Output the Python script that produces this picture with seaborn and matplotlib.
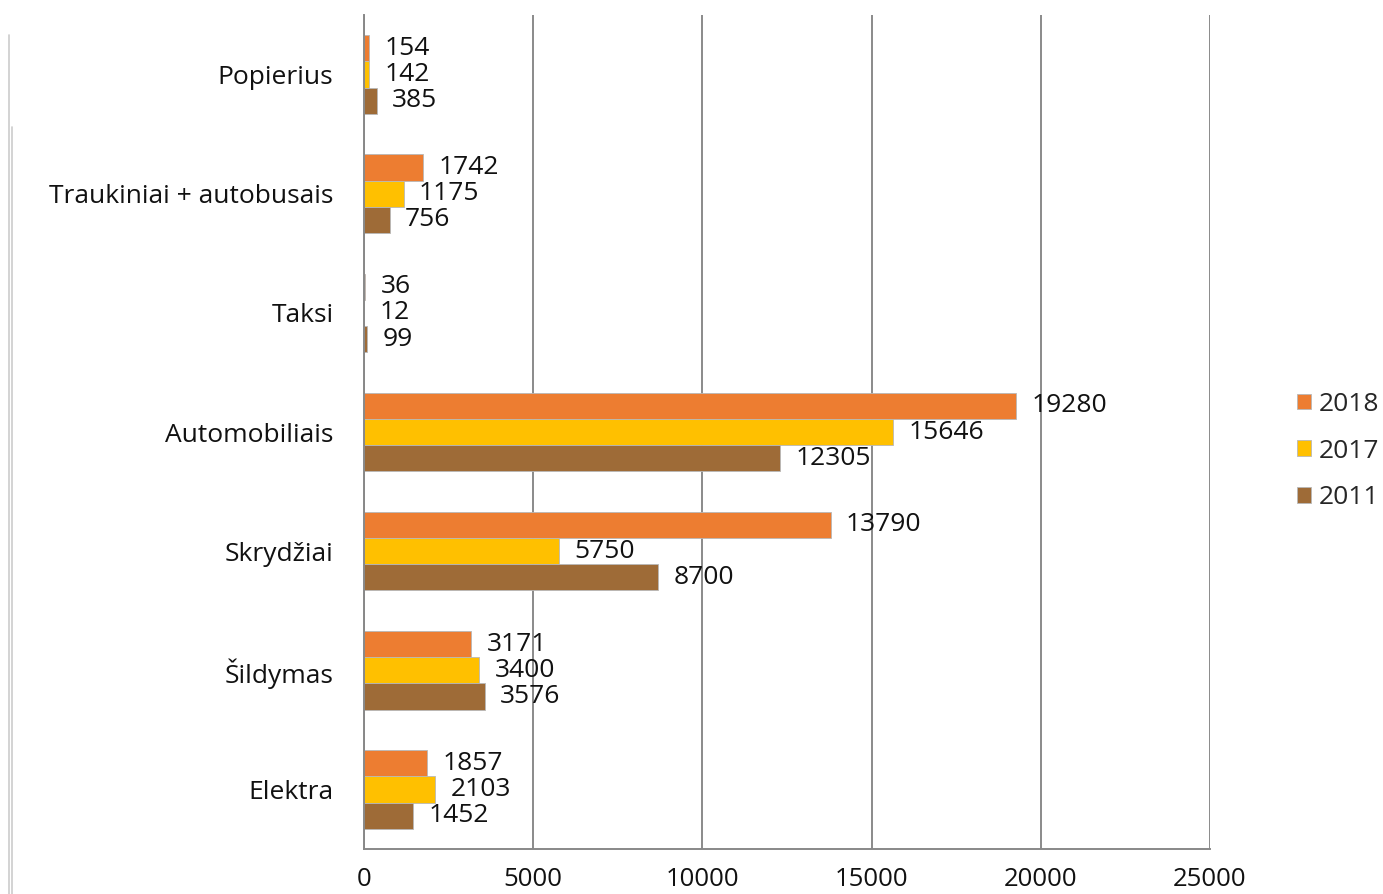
import matplotlib
matplotlib.use("Agg")
import matplotlib.pyplot as plt
import seaborn as sns
import pandas as pd
import numpy as np
from matplotlib.patches import Patch
from matplotlib.lines import Line2D

categories = ["Popierius", "Traukiniai + autobusais", "Taksi", "Automobiliais",
              "Skrydžiai", "Šildymas", "Elektra"]
years = ["2018", "2017", "2011"]
v2018 = [154, 1742, 36, 19280, 13790, 3171, 1857]
v2017 = [142, 1175, 12, 15646, 5750, 3400, 2103]
v2011 = [385, 756, 99, 12305, 8700, 3576, 1452]
colors = ["#ED7D31", "#FFC000", "#9E6B37"]

rows = []
for y, vals in zip(years, [v2018, v2017, v2011]):
    for c, v in zip(categories, vals):
        rows.append({"Category": c, "Year": y, "Value": v})
df = pd.DataFrame(rows)

sns.set_style("white")
plt.rcParams["font.family"] = ["Open Sans", "DejaVu Sans"]

W, H = 1383, 894
fig = plt.figure(figsize=(W/100, H/100), dpi=100)
ax = fig.add_axes([364/W, 1-849/H, 846/W, (849-15)/H])

sns.barplot(data=df, y="Category", x="Value", hue="Year", order=categories,
            hue_order=years, palette=colors, saturation=1, orient="h", width=0.66,
            edgecolor="#B8B8B8", linewidth=0.6, ax=ax, legend=False)

for container in ax.containers:
    ax.bar_label(container, labels=[f"{int(v)}" for v in container.datavalues],
                 padding=11, fontsize=19, color="#111111")

ax.set_xlim(0, 25000)
ax.set_ylim(len(categories)-0.5, -0.5)
ax.set_xticks(np.arange(0, 25001, 5000))
ax.set_xticklabels([str(v) for v in range(0, 25001, 5000)], fontsize=18.5, color="#111111")
ax.set_yticks(range(len(categories)))
ax.set_yticklabels(categories, fontsize=19, color="#111111")
ax.set_yticks(np.arange(-0.5, len(categories), 1.0), minor=True)
ax.tick_params(axis="y", which="major", length=0, pad=22)
ax.tick_params(axis="y", which="minor", length=8, color="#888888", width=1.2)
ax.tick_params(axis="x", which="major", length=6, color="#888888", width=1.2, pad=7)
ax.set_xlabel("")
ax.set_ylabel("")

ax.xaxis.grid(True, color="#8a8a8a", linewidth=1.4)
ax.set_axisbelow(True)
for s in ["top", "right"]:
    ax.spines[s].set_visible(False)
for s in ["left", "bottom"]:
    ax.spines[s].set_color("#888888")
    ax.spines[s].set_linewidth(1.4)

handles = [Patch(facecolor=c, edgecolor="#B8B8B8", linewidth=0.6) for c in colors]
fig.legend(handles, years, loc="center left", bbox_to_anchor=(1286/W, 1-451/H),
           frameon=False, fontsize=19, handlelength=0.55, handleheight=0.55,
           handletextpad=0.3, labelspacing=0.82, borderaxespad=0)

# faint page-edge lines from the source document
fig.add_artist(Line2D([8.5/W, 8.5/W], [0, 1-35/H], color="#cccccc", linewidth=1.2))
fig.add_artist(Line2D([11.5/W, 11.5/W], [0, 1-127/H], color="#cccccc", linewidth=1.2))

fig.savefig("out.png", dpi=100)
